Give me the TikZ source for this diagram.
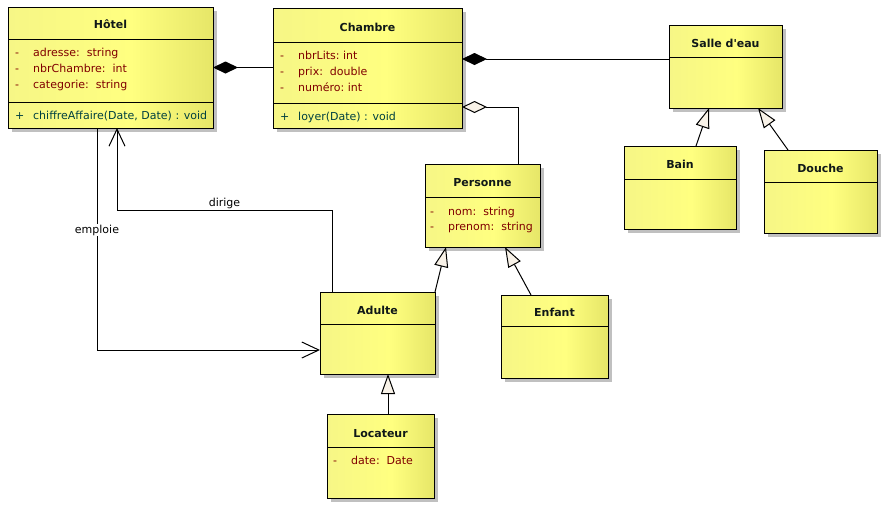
\documentclass[tikz,border=0pt]{standalone}
\usepackage{fontspec}
\setmainfont{DejaVu Sans}
\usepackage{tikz}
\usetikzlibrary{arrows.meta,shadows}

\definecolor{umlyellow}{RGB}{255,255,128}
\definecolor{umlyellowl}{RGB}{246,246,134}
\definecolor{umlyellowd}{RGB}{230,230,104}
\definecolor{attrred}{RGB}{128,0,0}
\definecolor{opteal}{RGB}{0,64,64}
\definecolor{titleink}{RGB}{16,24,24}
\definecolor{shadowgray}{RGB}{192,192,192}
\definecolor{tipfill}{RGB}{248,242,232}

\pgfdeclarehorizontalshading{umlfill}{100bp}{color(0bp)=(umlyellowl); color(25bp)=(umlyellowl); color(55bp)=(umlyellow); color(75bp)=(umlyellowd); color(100bp)=(umlyellowd)}

% one line of a compartment: visibility, then member
\newcommand{\umlrow}[2]{\strut\makebox[18pt][l]{#1}#2}

\begin{document}
\begin{tikzpicture}[x=1pt, y=-1pt,
    umlclass/.style={draw=black, line width=1pt, shading=umlfill, shade, anchor=north west,
      inner sep=0pt, outer sep=0pt,
      drop shadow={shadow xshift=4pt, shadow yshift=-4pt, fill=shadowgray, opacity=1}},
    classname/.style={font=\bfseries\fontsize{11}{13}\selectfont, text=titleink, inner sep=0pt,
      text height=8pt, text depth=0pt},
    attrs/.style={anchor=north west, inner sep=0pt, align=left, text=attrred,
      font=\fontsize{11}{16}\selectfont},
    ops/.style={attrs, text=opteal},
    sep/.style={line width=1pt},
    conn/.style={line width=1pt},
    comp/.style={conn, -{Diamond[length=25pt, width=12pt, fill=black]}},
    aggr/.style={conn, -{Diamond[open, length=25pt, width=12pt, fill=tipfill]}},
    gen/.style={conn, -{Triangle[open, length=20pt, width=14pt, fill=tipfill]}},
    assoc/.style={conn, -{Straight Barb[length=17pt, width=16pt]}},
    lbl/.style={font=\fontsize{11}{13}\selectfont, inner sep=1pt}]

    % Page
    \fill[white] (0,0) rectangle (890,507);
    \useasboundingbox (0,0) rectangle (890,507);

    % Hotel
    \node[umlclass, minimum width=205pt, minimum height=121pt] (hotel) at (8,7) {};
    \node[classname] (hotelname) at ([yshift=-17pt]hotel.north) {Hôtel};
    \draw[sep] ([yshift=-32pt]hotel.north west) -- ([yshift=-32pt]hotel.north east);
    \node[attrs] (hotelattrs) at ([shift={(7pt,-38.5pt)}]hotel.north west)
        {\umlrow{-}{adresse:~~string}\\ \umlrow{-}{nbrChambre:~~int}\\ \umlrow{-}{categorie:~~string}};
    \draw[sep] ([yshift=-95pt]hotel.north west) -- ([yshift=-95pt]hotel.north east);
    \node[ops] (hotelops) at ([shift={(7pt,-101.5pt)}]hotel.north west)
        {\umlrow{+}{chiffreAffaire(Date, Date) : void}};

    % Chambre
    \node[umlclass, minimum width=189pt, minimum height=120pt] (chambre) at (273,8) {};
    \node[classname] (chambrename) at ([yshift=-19pt]chambre.north) {Chambre};
    \draw[sep] ([yshift=-34pt]chambre.north west) -- ([yshift=-34pt]chambre.north east);
    \node[attrs] (chambreattrs) at ([shift={(7pt,-40pt)}]chambre.north west)
        {\umlrow{-}{nbrLits:~int}\\ \umlrow{-}{prix:~~double}\\ \umlrow{-}{numéro:~int}};
    \draw[sep] ([yshift=-95pt]chambre.north west) -- ([yshift=-95pt]chambre.north east);
    \node[ops] (chambreops) at ([shift={(7pt,-101.5pt)}]chambre.north west)
        {\umlrow{+}{loyer(Date) : void}};

    % Salle d'eau
    \node[umlclass, minimum width=113pt, minimum height=83pt] (salle) at (669,25) {};
    \node[classname] (sallename) at ([yshift=-18pt]salle.north) {Salle d\textquotesingle eau};
    \draw[sep] ([yshift=-32pt]salle.north west) -- ([yshift=-32pt]salle.north east);

    % Bain
    \node[umlclass, minimum width=112pt, minimum height=83pt] (bain) at (624,146) {};
    \node[classname] (bainname) at ([yshift=-18pt]bain.north) {Bain};
    \draw[sep] ([yshift=-33pt]bain.north west) -- ([yshift=-33pt]bain.north east);

    % Douche
    \node[umlclass, minimum width=113pt, minimum height=83pt] (douche) at (764,150) {};
    \node[classname] (douchename) at ([yshift=-18pt]douche.north) {Douche};
    \draw[sep] ([yshift=-32pt]douche.north west) -- ([yshift=-32pt]douche.north east);

    % Personne
    \node[umlclass, minimum width=115pt, minimum height=83pt] (personne) at (425,164) {};
    \node[classname] (personnename) at ([yshift=-18pt]personne.north) {Personne};
    \draw[sep] ([yshift=-33pt]personne.north west) -- ([yshift=-33pt]personne.north east);
    \node[attrs] (personneattrs) at ([shift={(5pt,-40pt)}]personne.north west)
        {\umlrow{-}{nom:~~string}\\[-1pt] \umlrow{-}{prenom:~~string}};

    % Adulte
    \node[umlclass, minimum width=115pt, minimum height=82pt] (adulte) at (320,292) {};
    \node[classname] (adultename) at ([yshift=-18pt]adulte.north) {Adulte};
    \draw[sep] ([yshift=-32pt]adulte.north west) -- ([yshift=-32pt]adulte.north east);

    % Enfant
    \node[umlclass, minimum width=107pt, minimum height=83pt] (enfant) at (501,295) {};
    \node[classname] (enfantname) at ([yshift=-17pt]enfant.north) {Enfant};
    \draw[sep] ([yshift=-31pt]enfant.north west) -- ([yshift=-31pt]enfant.north east);

    % Locateur
    \node[umlclass, minimum width=107pt, minimum height=84pt] (locateur) at (327,414) {};
    \node[classname] (locateurname) at ([yshift=-19pt]locateur.north) {Locateur};
    \draw[sep] ([yshift=-33pt]locateur.north west) -- ([yshift=-33pt]locateur.north east);
    \node[attrs] (locateurattrs) at ([shift={(6pt,-39.5pt)}]locateur.north west)
        {\umlrow{-}{date:~~Date}};

    % Compositions
    \draw[comp] (chambre.west |- hotel.east) -- (hotel.east);
    \draw[comp] (salle.west |- 0,59) -- (chambre.east |- 0,59);

    % Aggregation Personne - Chambre
    \draw[aggr] ([xshift=35.5pt]personne.north) |- (chambre.east |- 0,107);

    % Generalisations
    \draw[gen] ([xshift=16pt]bain.north) -- ([xshift=-16.5pt]salle.south);
    \draw[gen] ([xshift=-32.5pt]douche.north) -- ([xshift=32.5pt]salle.south);
    \draw[gen] (adulte.north east) -- ([xshift=-36.5pt]personne.south);
    \draw[gen] ([xshift=-23.5pt]enfant.north) -- ([xshift=22.5pt]personne.south);
    \draw[gen] ([xshift=7.5pt]locateur.north) -- ([xshift=7.5pt]locateur.north |- adulte.south);

    % Associations
    \draw[assoc] ([xshift=12pt]adulte.north west) -- ++(0,-82)
        -| node[lbl, above, pos=0.25] (dirigelbl) {dirige} ([xshift=6.5pt]hotel.south);
    \draw[assoc] ([xshift=-13.5pt]hotel.south) |- node[lbl, fill=white, pos=0.23] (emploielbl) {emploie}
        ([yshift=-17pt]adulte.west);
\end{tikzpicture}
\end{document}
